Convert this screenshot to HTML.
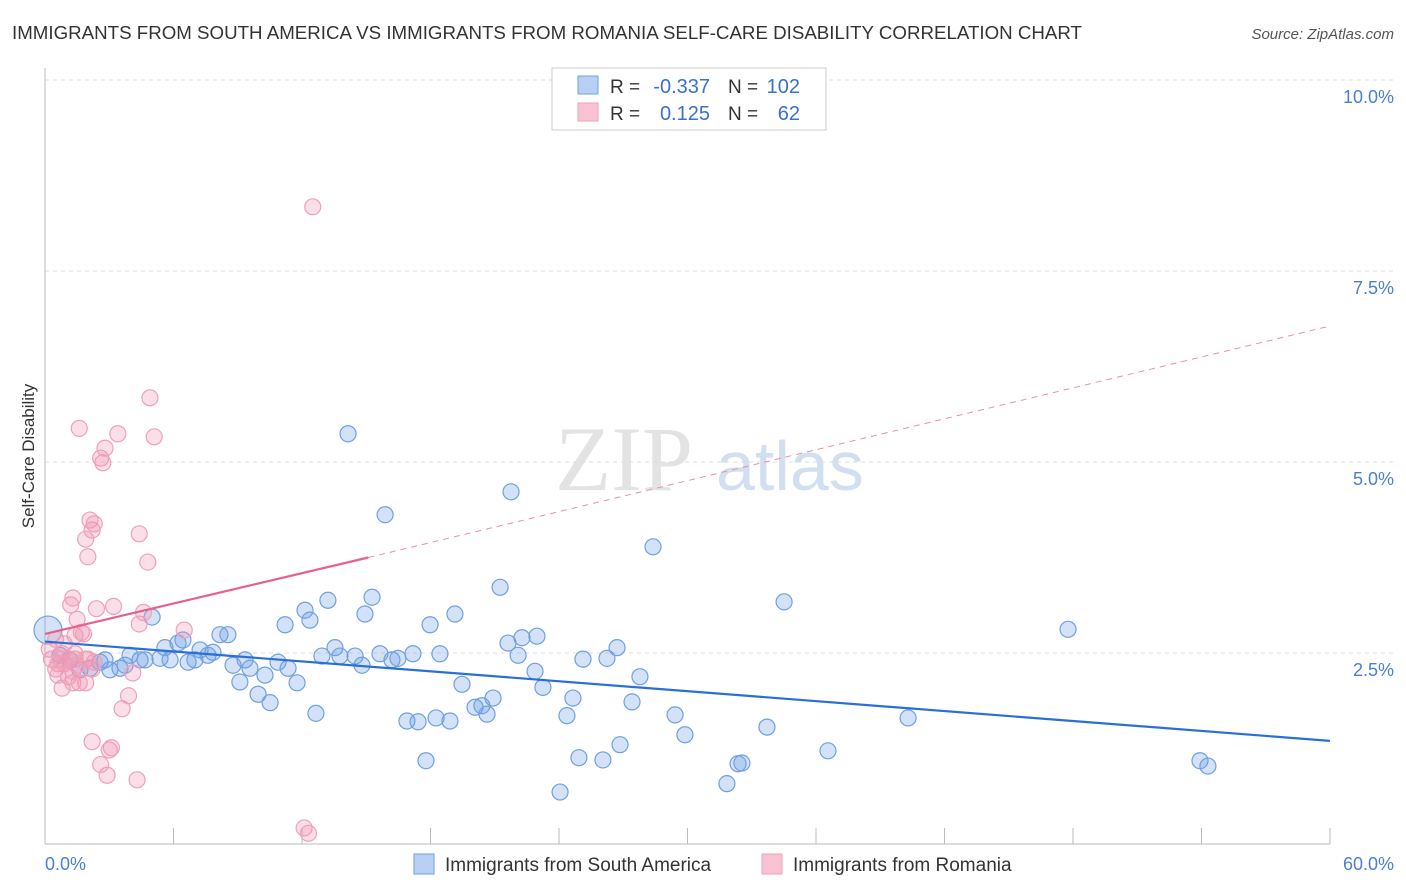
<!DOCTYPE html>
<html><head><meta charset="utf-8"><style>
body{margin:0;background:#fff;font-family:"Liberation Sans",sans-serif;}
svg{display:block}
</style></head><body>
<svg width="1406" height="892" viewBox="0 0 1406 892" xmlns="http://www.w3.org/2000/svg">
<text x="12" y="39" font-size="18" fill="#333" textLength="1070" lengthAdjust="spacingAndGlyphs">IMMIGRANTS FROM SOUTH AMERICA VS IMMIGRANTS FROM ROMANIA SELF-CARE DISABILITY CORRELATION CHART</text>
<text x="1394" y="39" font-size="15" fill="#555" text-anchor="end" font-style="italic">Source: ZipAtlas.com</text>
<text x="555" y="490" font-size="92" fill="#ddd" font-family="Liberation Serif" opacity="0.8">ZIP</text>
<text x="716" y="490" font-size="70" fill="#c8d8ee" opacity="0.8">atlas</text>
<g id="grid"></g>
<g id="axes"></g>
<g id="pts"></g>
<g id="trend"></g>
<text transform="translate(34,456) rotate(-90)" font-size="17" fill="#333" text-anchor="middle">Self-Care Disability</text>
<text x="45" y="870" font-size="18" fill="#4a7fd4">0.0%</text>
<text x="1394" y="870" font-size="18" fill="#4a7fd4" text-anchor="end">60.0%</text>
<g>
<rect x="552" y="68" width="274" height="62" fill="#fff" stroke="#ccc"/>
<rect x="578" y="76" width="20" height="18" fill="#b8d0f4" stroke="#6fa0e0"/>
<rect x="578" y="103" width="20" height="18" fill="#f8c4d4" stroke="#f0a0b8"/>
<text x="610" y="93" font-size="19" fill="#333">R =</text>
<text x="710" y="93" font-size="20" fill="#3a6fd0" text-anchor="end">-0.337</text>
<text x="728" y="93" font-size="19" fill="#333">N =</text>
<text x="800" y="93" font-size="20" fill="#3a6fd0" text-anchor="end">102</text>
<text x="610" y="120" font-size="19" fill="#333">R =</text>
<text x="710" y="120" font-size="20" fill="#3a6fd0" text-anchor="end">0.125</text>
<text x="728" y="120" font-size="19" fill="#333">N =</text>
<text x="800" y="120" font-size="20" fill="#3a6fd0" text-anchor="end">62</text>
</g>
<g>
<rect x="414" y="854" width="20" height="20" fill="#b8d0f4" stroke="#6fa0e0"/>
<text x="445" y="871" font-size="19" fill="#333">Immigrants from South America</text>
<rect x="762" y="854" width="20" height="20" fill="#f8c4d4" stroke="#f0a0b8"/>
<text x="793" y="871" font-size="19" fill="#333">Immigrants from Romania</text>
</g>
</svg>
<script>
const yTicks=[2.5,5.0,7.5,10.0];
const yTickLabels=["2.5%","5.0%","7.5%","10.0%"];
const xTicks=[0,6,12,18,24,30,36,42,48,54,60];
const blueX=[0.14,0.70,1.17,1.63,2.10,2.57,2.80,3.03,3.50,3.74,3.97,4.44,4.67,5.00,5.37,5.60,5.84,6.21,6.44,6.68,7.00,7.24,7.61,7.84,8.17,8.54,8.78,9.10,9.34,9.57,9.95,10.27,10.51,10.88,11.35,11.21,11.77,12.14,12.37,12.65,12.93,13.21,13.54,13.77,14.15,14.48,14.80,14.94,15.27,15.64,15.88,16.20,16.48,16.90,17.18,17.42,17.79,17.98,18.26,18.44,18.91,19.14,19.47,20.08,20.40,20.64,20.92,21.25,21.62,21.76,22.09,22.27,22.88,22.97,23.25,24.05,24.37,24.65,24.93,25.12,26.05,26.24,26.71,26.85,27.41,27.78,28.39,29.42,29.88,31.84,32.36,32.54,33.71,34.51,36.56,40.30,47.77,53.93,54.30];
const blueY=[2.80,2.47,2.41,2.28,2.30,2.38,2.41,2.28,2.30,2.34,2.47,2.41,2.41,2.97,2.43,2.57,2.41,2.63,2.67,2.38,2.41,2.54,2.47,2.51,2.74,2.74,2.34,2.12,2.41,2.30,1.96,2.21,1.85,2.38,2.30,2.87,2.11,3.06,2.93,1.71,2.46,3.19,2.57,2.46,5.37,2.46,2.34,3.01,3.23,2.49,4.31,2.41,2.43,1.61,2.49,1.60,1.09,2.87,1.65,2.49,1.61,3.01,2.09,1.79,1.81,1.70,1.91,3.36,2.63,4.61,2.47,2.70,2.26,2.72,2.05,0.68,1.68,1.91,1.13,2.42,1.10,2.43,2.57,1.30,1.86,2.19,3.89,1.69,1.43,0.79,1.05,1.06,1.53,3.17,1.22,1.65,2.81,1.09,1.02];
const pinkX=[0.2,0.3,0.5,0.6,0.7,0.8,0.9,1.1,1.2,1.3,1.4,1.4,1.5,1.6,1.7,1.8,1.9,1.9,2.0,2.1,2.2,2.3,2.4,2.6,2.7,2.8,2.9,3.0,3.2,3.4,3.6,3.9,4.1,4.3,4.4,4.4,4.6,4.8,4.9,5.1,6.5,12.1,12.3,12.5,0.8,1.3,1.6,2.2,2.6,3.1,1.4,1.9,2.3,0.5,0.9,1.3,0.6,1.1,1.5,2.0,2.2];
const pinkY=[2.55,2.42,2.29,2.36,2.42,2.49,2.36,2.19,3.13,3.22,2.73,2.42,2.94,5.44,2.77,2.75,2.11,3.99,3.76,4.24,4.11,4.19,3.08,5.05,4.99,5.18,0.90,1.23,3.11,5.37,1.77,1.94,2.24,0.84,2.88,4.06,3.03,3.69,5.84,5.33,2.8,0.21,0.14,8.34,2.04,2.11,2.11,1.34,1.04,1.26,2.49,2.42,2.38,2.68,2.62,2.26,2.21,2.42,2.34,2.42,2.29];
const blueTrend=[[0,2.65],[60,1.35]];
const pinkTrend=[[0,2.75],[15.1,3.75],[60,6.78]];
const X=v=>45+v/60*1285, Y=v=>844-v/2.5*191;
const NS="http://www.w3.org/2000/svg";
function mk(t,a,p){const e=document.createElementNS(NS,t);for(const k in a)e.setAttribute(k,a[k]);p.appendChild(e);return e;}
const grid=document.getElementById('grid'),axes=document.getElementById('axes'),pts=document.getElementById('pts'),tr=document.getElementById('trend');
yTicks.forEach((v,i)=>{
 const l=mk('line',{x1:45,x2:1394,y1:Y(v),y2:Y(v),stroke:'#ddd','stroke-dasharray':'4,4'},grid);
 
 
 const t=mk('text',{x:1394,y:Y(v)+23,'font-size':18,fill:'#4a7fd4','text-anchor':'end'},grid);
 t.textContent=yTickLabels[i];
 
 
});
const ax=mk('line',{x1:45,x2:45,y1:68,y2:844,stroke:'#bbb'},axes);


const bx=mk('line',{x1:45,x2:1330,y1:844,y2:844,stroke:'#bbb'},axes);


xTicks.forEach(v=>{
 const t=mk('line',{x1:X(v),x2:X(v),y1:828,y2:844,stroke:'#bbb'},axes);
 
 
});
blueX.forEach((v,i)=>{
 const c=mk('circle',{cx:X(v),cy:Y(blueY[i]),r:i==0?14:8,fill:'rgba(110,160,230,0.3)',stroke:'#6fa0e0','stroke-width':1.2},pts);
 
 
});
pinkX.forEach((v,i)=>{
 const c=mk('circle',{cx:X(v),cy:Y(pinkY[i]),r:8,fill:'rgba(240,150,180,0.3)',stroke:'#f0a0b8','stroke-width':1.2},pts);
 
 
});
const bl=mk('line',{x1:X(blueTrend[0][0]),y1:Y(blueTrend[0][1]),x2:X(blueTrend[1][0]),y2:Y(blueTrend[1][1]),stroke:'#2a6fd8','stroke-width':2.2},tr);


const pl=mk('line',{x1:X(pinkTrend[0][0]),y1:Y(pinkTrend[0][1]),x2:X(pinkTrend[1][0]),y2:Y(pinkTrend[1][1]),stroke:'#e8608c','stroke-width':2.2},tr);


const pd=mk('line',{x1:X(pinkTrend[1][0]),y1:Y(pinkTrend[1][1]),x2:X(pinkTrend[2][0]),y2:Y(pinkTrend[2][1]),stroke:'#e890ac','stroke-width':1,'stroke-dasharray':'6,5'},tr);


</script>
</body></html>
